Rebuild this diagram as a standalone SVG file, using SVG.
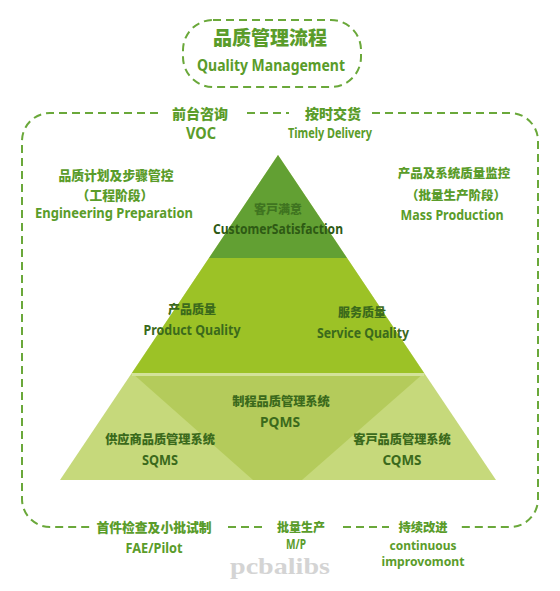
<svg xmlns="http://www.w3.org/2000/svg" width="560" height="591" viewBox="0 0 560 591">
<style>
.dash{fill:none;stroke:#6aa83a;stroke-width:2;stroke-dasharray:8 5}
.cn{font-family:"Noto Sans CJK SC","Noto Sans",sans-serif;font-weight:900;text-anchor:middle}
.en{font-family:"Noto Sans","Liberation Sans",sans-serif;font-weight:bold;text-anchor:middle}
.out{fill:#5a9c2a}
.in{fill:#3b6a1c}
</style>
<rect width="560" height="591" fill="#ffffff"/>
<g id="pyramid">
<polygon points="278,155 496,480 60,480" fill="#c6d97b"/>
<polygon points="132,373 424,373 302,480 253,480" fill="#b4cb5b"/>
<line x1="132" y1="374.5" x2="424" y2="374.5" stroke="#d3e29a" stroke-width="3"/>
<polygon points="209,258 347,258 424,373 132,373" fill="#9cc226"/>
<polygon points="278,155 347,258 209,258" fill="#62a033"/>
</g>
<g id="connectors">
<rect x="183" y="20" width="178" height="67" rx="30" class="dash"/>
<path class="dash" d="M158,113 H50 A28,28 0 0 0 22,141 V499 A28,28 0 0 0 50,527 H90"/>
<path class="dash" d="M247,113 H289"/>
<path class="dash" d="M372,113 H510 A28,28 0 0 1 538,141 V499 A28,28 0 0 1 510,527 H458"/>
<path class="dash" d="M228,527 H266"/>
<path class="dash" d="M343,527 H389"/>
</g>
<g id="title">
<text class="cn out" x="270" y="45" font-size="19">品质管理流程</text>
<text class="en out" x="271" y="71" font-size="16" textLength="148" lengthAdjust="spacingAndGlyphs">Quality Management</text>
</g>
<g id="voc">
<text class="cn out" x="200" y="119" font-size="14">前台咨询</text>
<text class="en out" x="201" y="139" font-size="16" textLength="30" lengthAdjust="spacingAndGlyphs">VOC</text>
</g>
<g id="delivery">
<text class="cn out" x="333" y="119" font-size="14">按时交货</text>
<text class="en out" x="330" y="138" font-size="14" textLength="84" lengthAdjust="spacingAndGlyphs">Timely Delivery</text>
</g>
<g id="engineering">
<text class="cn out" x="116" y="180" font-size="12.8">品质计划及步骤管控</text>
<text class="cn out" x="115" y="200" font-size="12.8">（工程阶段）</text>
<text class="en out" x="114" y="218" font-size="14" textLength="158" lengthAdjust="spacingAndGlyphs">Engineering Preparation</text>
</g>
<g id="mass">
<text class="cn out" x="454" y="178" font-size="12.5">产品及系统质量监控</text>
<text class="cn out" x="456" y="200" font-size="12.5">（批量生产阶段）</text>
<text class="en out" x="452" y="220" font-size="14" textLength="103" lengthAdjust="spacingAndGlyphs">Mass Production</text>
</g>
<g id="customer-satisfaction">
<text class="cn" fill="#3f7420" x="278" y="214" font-size="12">客戸满意</text>
<text class="en" fill="#2e5a14" x="278" y="234" font-size="14" textLength="130" lengthAdjust="spacingAndGlyphs">CustomerSatisfaction</text>
</g>
<g id="product-quality">
<text class="cn in" x="192" y="314" font-size="12">产品质量</text>
<text class="en in" x="192" y="335" font-size="14" textLength="97" lengthAdjust="spacingAndGlyphs">Product Quality</text>
</g>
<g id="service-quality">
<text class="cn in" x="362" y="317" font-size="12">服务质量</text>
<text class="en in" x="363" y="338" font-size="14" textLength="92" lengthAdjust="spacingAndGlyphs">Service Quality</text>
</g>
<g id="pqms">
<text class="cn in" x="281" y="406" font-size="12.2">制程品质管理系统</text>
<text class="en in" x="280" y="427" font-size="14" textLength="40" lengthAdjust="spacingAndGlyphs">PQMS</text>
</g>
<g id="sqms">
<text class="cn in" x="160" y="444" font-size="12.2">供应商品质管理系统</text>
<text class="en in" x="160" y="465" font-size="14" textLength="36" lengthAdjust="spacingAndGlyphs">SQMS</text>
</g>
<g id="cqms">
<text class="cn in" x="402" y="444" font-size="12.2">客戸品质管理系统</text>
<text class="en in" x="402" y="465" font-size="14" textLength="39" lengthAdjust="spacingAndGlyphs">CQMS</text>
</g>
<text x="280" y="574" font-family="Liberation Serif,serif" font-weight="bold" font-size="24" fill="#d4d4d4" text-anchor="middle" textLength="100" lengthAdjust="spacingAndGlyphs">pcbalibs</text>
<g id="fae">
<text class="cn out" x="154" y="532" font-size="12.8">首件检查及小批试制</text>
<text class="en out" x="154" y="553" font-size="14" textLength="57" lengthAdjust="spacingAndGlyphs">FAE/Pilot</text>
</g>
<g id="mp">
<text class="cn out" x="301" y="532" font-size="12">批量生产</text>
<text class="en out" x="296" y="549" font-size="14" textLength="20" lengthAdjust="spacingAndGlyphs">M/P</text>
</g>
<g id="improvement">
<text class="cn out" x="423" y="532" font-size="12.3">持续改进</text>
<text class="en out" x="423" y="550" font-size="12.5" textLength="67" lengthAdjust="spacingAndGlyphs">continuous</text>
<text class="en out" x="423" y="566" font-size="12.5" textLength="83" lengthAdjust="spacingAndGlyphs">improvomont</text>
</g>
</svg>
